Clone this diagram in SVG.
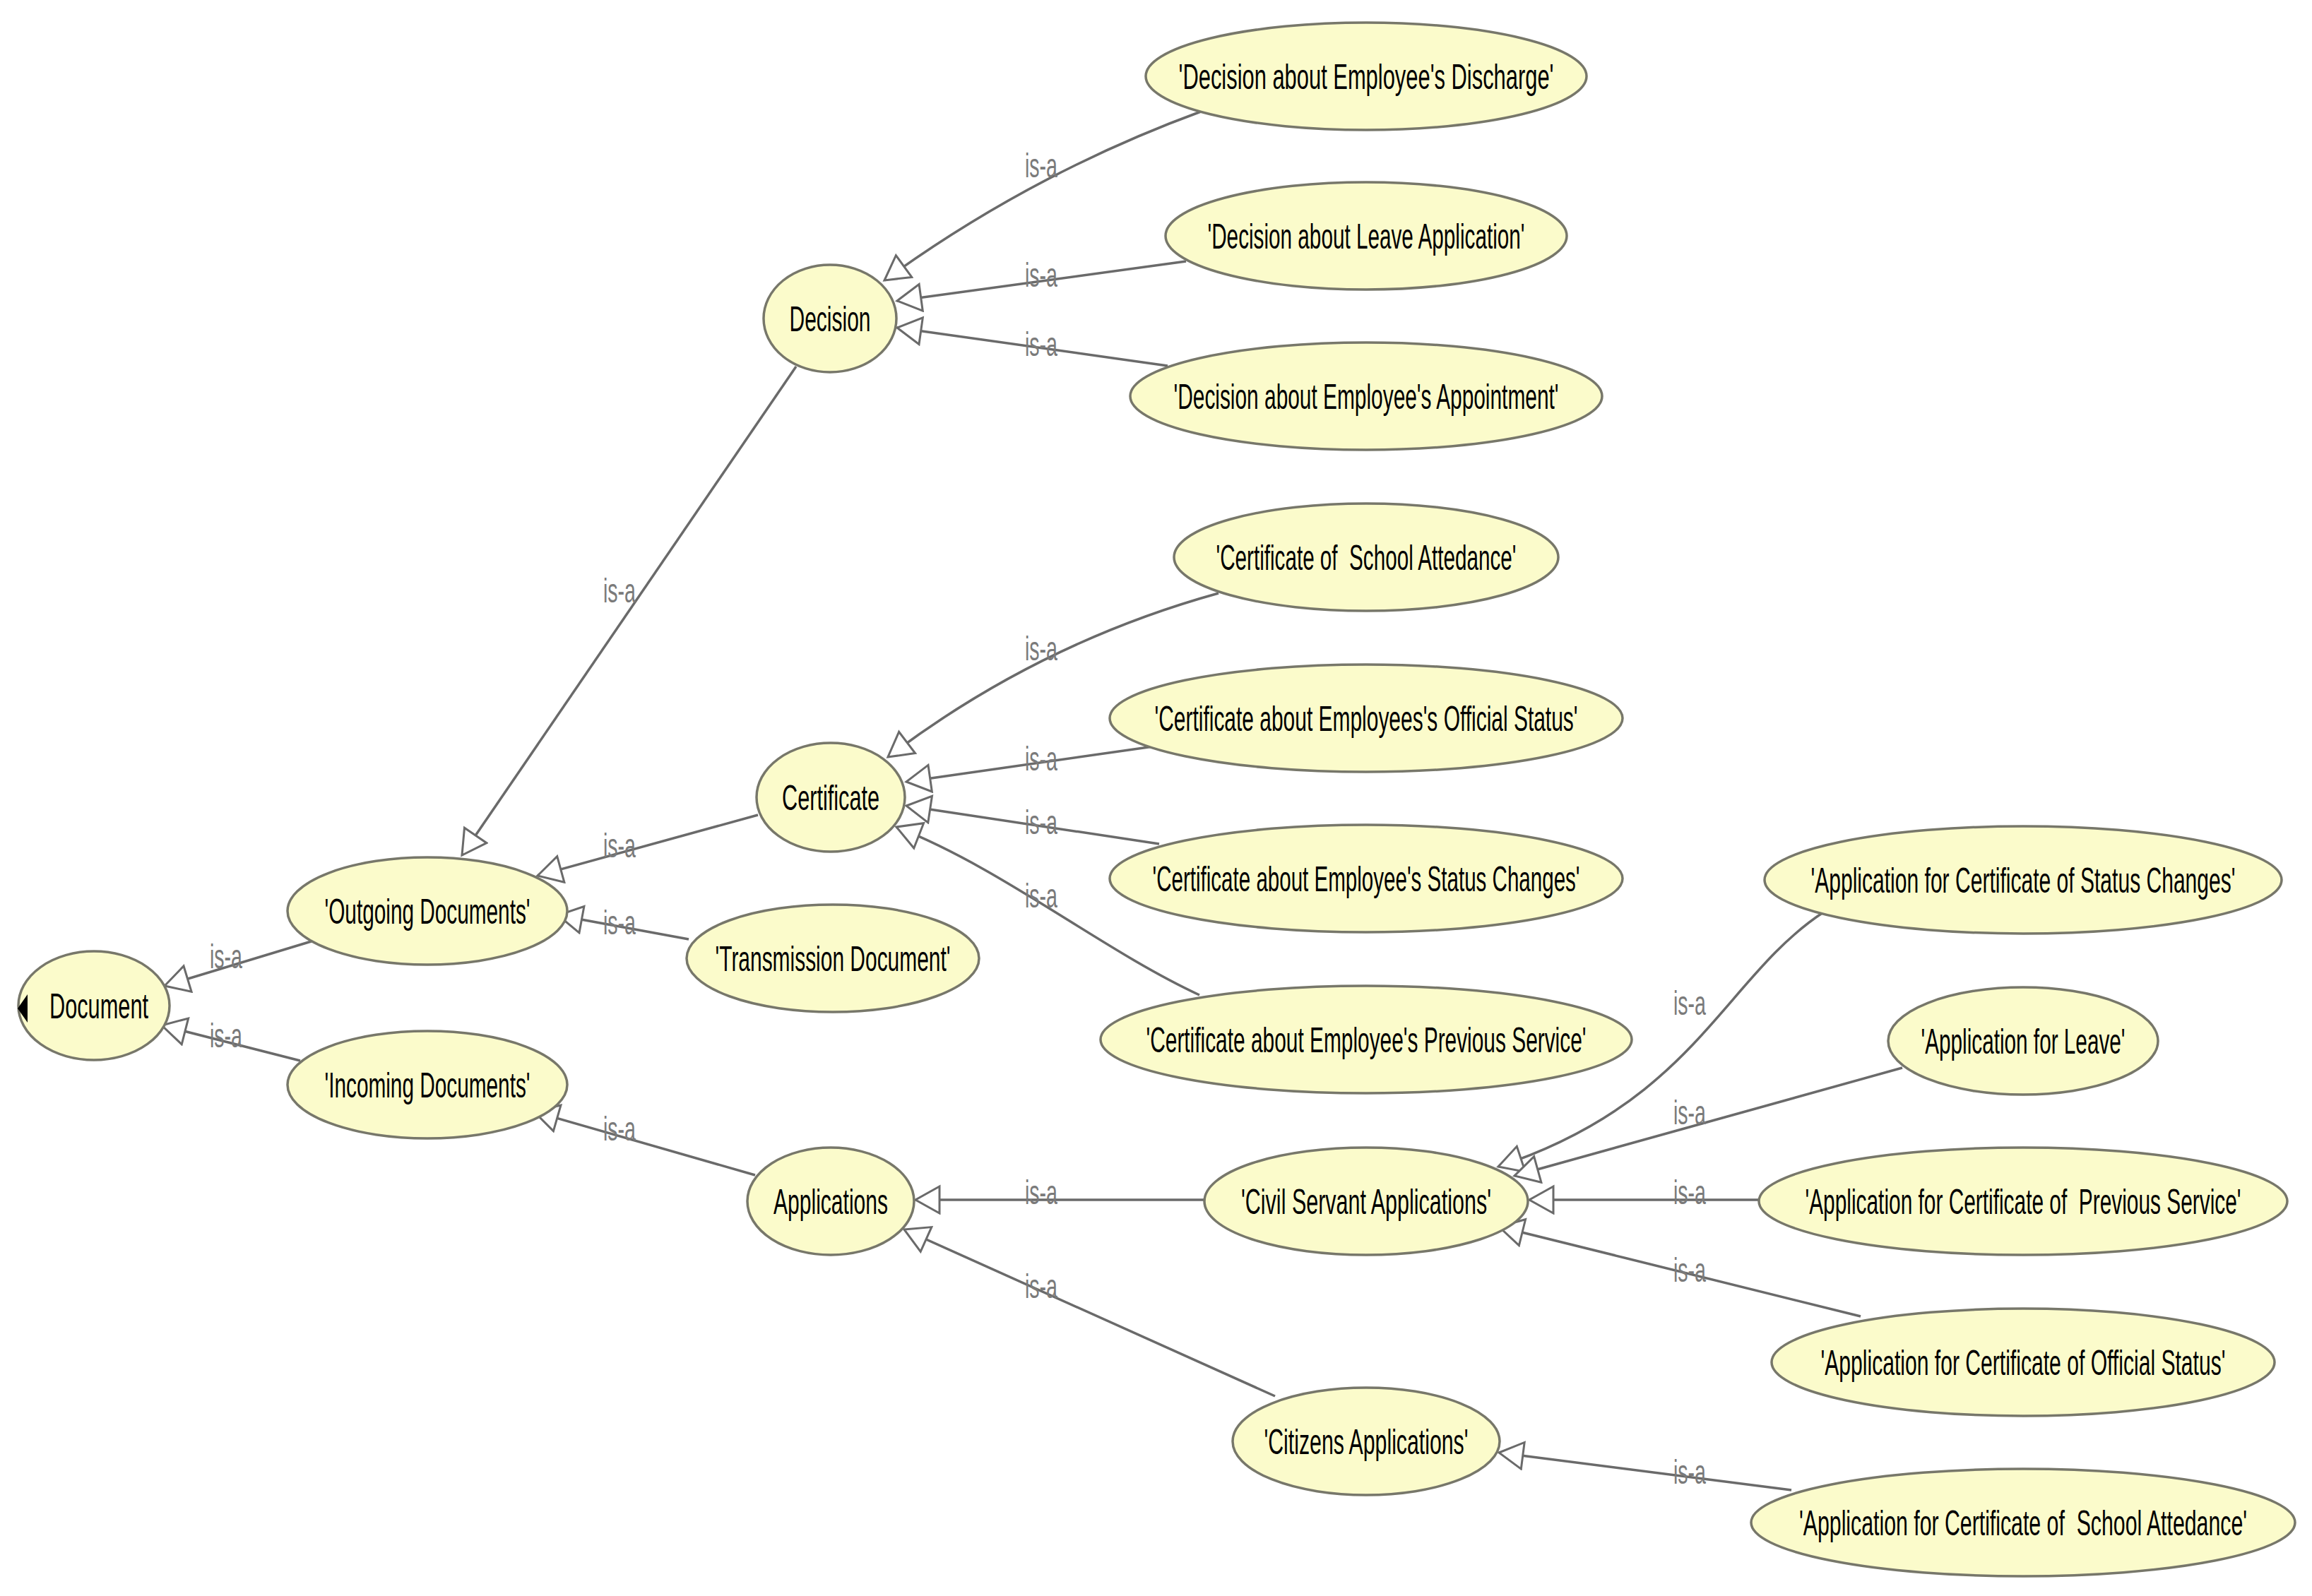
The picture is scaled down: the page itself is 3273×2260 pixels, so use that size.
<svg xmlns="http://www.w3.org/2000/svg" width="3273" height="2260" viewBox="0 0 3273 2260">
<style>
.n ellipse{fill:#FBFBCB;stroke:#77776A;stroke-width:3.5}
.n text{font-family:"Liberation Sans",Arial,sans-serif;font-size:50px;fill:#000;text-anchor:middle}
.e path{fill:none;stroke:#6A6A6A;stroke-width:3.5;marker-end:url(#tri)}
.l text{font-family:"Liberation Sans",Arial,sans-serif;font-size:48px;fill:#7A7A7A;text-anchor:middle}
</style>
<defs>
<marker id="tri" markerUnits="userSpaceOnUse" markerWidth="40" markerHeight="44" viewBox="-2 -2 40 44" refX="34" refY="19" orient="auto">
<path d="M0,0 L34,19 L0,38 Z" fill="#fff" stroke="#6A6A6A" stroke-width="3"/>
</marker>
</defs>
<rect width="3273" height="2260" fill="#fff"/>
<g id="connectors" class="e">
<path d="M444,1332 L233,1396"/>
<path d="M425,1502 L229,1452"/>
<path d="M1127,519 L654,1211"/>
<path d="M1073,1154 L761,1240"/>
<path d="M975,1330 L790,1296"/>
<path d="M1069,1664 L756,1574"/>
<path d="M1700,158 Q1460,246 1252,397"/>
<path d="M1679,370 L1270,426"/>
<path d="M1653,518 L1270,464"/>
<path d="M1725,840 Q1469,911 1257,1072"/>
<path d="M1633,1057 L1283,1107"/>
<path d="M1641,1195 L1283,1141"/>
<path d="M1698,1409 C1560,1345 1420,1230 1269,1171"/>
<path d="M1707,1699 L1296,1699"/>
<path d="M1805,1977 L1280,1741"/>
<path d="M2581,1292 C2440,1385 2400,1560 2121,1652"/>
<path d="M2693,1512 L2144,1665"/>
<path d="M2498,1699 L2165,1699"/>
<path d="M2634,1864 L2122,1737"/>
<path d="M2536,2110 L2122,2057"/>
</g>
<g id="labels" class="l">
<text x="320" y="1371" textLength="46" lengthAdjust="spacingAndGlyphs">is-a</text>
<text x="320" y="1483" textLength="46" lengthAdjust="spacingAndGlyphs">is-a</text>
<text x="877" y="853" textLength="46" lengthAdjust="spacingAndGlyphs">is-a</text>
<text x="877" y="1214" textLength="46" lengthAdjust="spacingAndGlyphs">is-a</text>
<text x="877" y="1323" textLength="46" lengthAdjust="spacingAndGlyphs">is-a</text>
<text x="877" y="1615" textLength="46" lengthAdjust="spacingAndGlyphs">is-a</text>
<text x="1474" y="251" textLength="46" lengthAdjust="spacingAndGlyphs">is-a</text>
<text x="1474" y="406" textLength="46" lengthAdjust="spacingAndGlyphs">is-a</text>
<text x="1474" y="504" textLength="46" lengthAdjust="spacingAndGlyphs">is-a</text>
<text x="1474" y="935" textLength="46" lengthAdjust="spacingAndGlyphs">is-a</text>
<text x="1474" y="1091" textLength="46" lengthAdjust="spacingAndGlyphs">is-a</text>
<text x="1474" y="1181" textLength="46" lengthAdjust="spacingAndGlyphs">is-a</text>
<text x="1474" y="1285" textLength="46" lengthAdjust="spacingAndGlyphs">is-a</text>
<text x="1474" y="1705" textLength="46" lengthAdjust="spacingAndGlyphs">is-a</text>
<text x="1474" y="1838" textLength="46" lengthAdjust="spacingAndGlyphs">is-a</text>
<text x="2392" y="1437" textLength="46" lengthAdjust="spacingAndGlyphs">is-a</text>
<text x="2392" y="1592" textLength="46" lengthAdjust="spacingAndGlyphs">is-a</text>
<text x="2392" y="1705" textLength="46" lengthAdjust="spacingAndGlyphs">is-a</text>
<text x="2392" y="1815" textLength="46" lengthAdjust="spacingAndGlyphs">is-a</text>
<text x="2392" y="2101" textLength="46" lengthAdjust="spacingAndGlyphs">is-a</text>
</g>
<g id="node-document" class="n"><ellipse cx="133" cy="1424" rx="107" ry="77"/><polygon points="25,1428 39,1408 39,1448" fill="#000"/><text x="140" y="1442" textLength="140" lengthAdjust="spacingAndGlyphs">Document</text></g>
<g id="node-outgoing" class="n"><ellipse cx="605" cy="1290" rx="198" ry="76"/><text x="605" y="1308" textLength="291" lengthAdjust="spacingAndGlyphs">'Outgoing Documents'</text></g>
<g id="node-incoming" class="n"><ellipse cx="605" cy="1536" rx="198" ry="76"/><text x="605" y="1554" textLength="291" lengthAdjust="spacingAndGlyphs">'Incoming Documents'</text></g>
<g id="node-transmission" class="n"><ellipse cx="1179" cy="1357" rx="207" ry="76"/><text x="1179" y="1375" textLength="333" lengthAdjust="spacingAndGlyphs">'Transmission Document'</text></g>
<g id="node-decision" class="n"><ellipse cx="1175" cy="451" rx="94" ry="76"/><text x="1175" y="469" textLength="115" lengthAdjust="spacingAndGlyphs">Decision</text></g>
<g id="node-certificate" class="n"><ellipse cx="1176" cy="1129" rx="105" ry="77"/><text x="1176" y="1147" textLength="138" lengthAdjust="spacingAndGlyphs">Certificate</text></g>
<g id="node-applications" class="n"><ellipse cx="1176" cy="1701" rx="118" ry="76"/><text x="1176" y="1719" textLength="162" lengthAdjust="spacingAndGlyphs">Applications</text></g>
<g id="node-dec-discharge" class="n"><ellipse cx="1934" cy="108" rx="312" ry="76"/><text x="1934" y="126" textLength="531" lengthAdjust="spacingAndGlyphs">'Decision about Employee's Discharge'</text></g>
<g id="node-dec-leave" class="n"><ellipse cx="1934" cy="334" rx="284" ry="76"/><text x="1934" y="352" textLength="449" lengthAdjust="spacingAndGlyphs">'Decision about Leave Application'</text></g>
<g id="node-dec-appointment" class="n"><ellipse cx="1934" cy="561" rx="334" ry="76"/><text x="1934" y="579" textLength="545" lengthAdjust="spacingAndGlyphs">'Decision about Employee's Appointment'</text></g>
<g id="node-cert-school" class="n"><ellipse cx="1934" cy="789" rx="272" ry="76"/><text x="1934" y="807" textLength="425" lengthAdjust="spacingAndGlyphs" xml:space="preserve">'Certificate of  School Attedance'</text></g>
<g id="node-cert-official" class="n"><ellipse cx="1934" cy="1017" rx="363" ry="76"/><text x="1934" y="1035" textLength="599" lengthAdjust="spacingAndGlyphs">'Certificate about Employees's Official Status'</text></g>
<g id="node-cert-status" class="n"><ellipse cx="1934" cy="1244" rx="363" ry="76"/><text x="1934" y="1262" textLength="605" lengthAdjust="spacingAndGlyphs">'Certificate about Employee's Status Changes'</text></g>
<g id="node-cert-previous" class="n"><ellipse cx="1934" cy="1472" rx="376" ry="76"/><text x="1934" y="1490" textLength="623" lengthAdjust="spacingAndGlyphs">'Certificate about Employee's Previous Service'</text></g>
<g id="node-civil" class="n"><ellipse cx="1934" cy="1701" rx="229" ry="76"/><text x="1934" y="1719" textLength="354" lengthAdjust="spacingAndGlyphs">'Civil Servant Applications'</text></g>
<g id="node-citizens" class="n"><ellipse cx="1934" cy="2041" rx="189" ry="76"/><text x="1934" y="2059" textLength="289" lengthAdjust="spacingAndGlyphs">'Citizens Applications'</text></g>
<g id="node-app-status" class="n"><ellipse cx="2864" cy="1246" rx="366" ry="76"/><text x="2864" y="1264" textLength="601" lengthAdjust="spacingAndGlyphs">'Application for Certificate of Status Changes'</text></g>
<g id="node-app-leave" class="n"><ellipse cx="2864" cy="1474" rx="191" ry="76"/><text x="2864" y="1492" textLength="289" lengthAdjust="spacingAndGlyphs">'Application for Leave'</text></g>
<g id="node-app-previous" class="n"><ellipse cx="2864" cy="1701" rx="374" ry="76"/><text x="2864" y="1719" textLength="617" lengthAdjust="spacingAndGlyphs" xml:space="preserve">'Application for Certificate of  Previous Service'</text></g>
<g id="node-app-official" class="n"><ellipse cx="2864" cy="1929" rx="356" ry="76"/><text x="2864" y="1947" textLength="573" lengthAdjust="spacingAndGlyphs">'Application for Certificate of Official Status'</text></g>
<g id="node-app-school" class="n"><ellipse cx="2864" cy="2156" rx="385" ry="76"/><text x="2864" y="2174" textLength="634" lengthAdjust="spacingAndGlyphs" xml:space="preserve">'Application for Certificate of  School Attedance'</text></g>
</svg>
